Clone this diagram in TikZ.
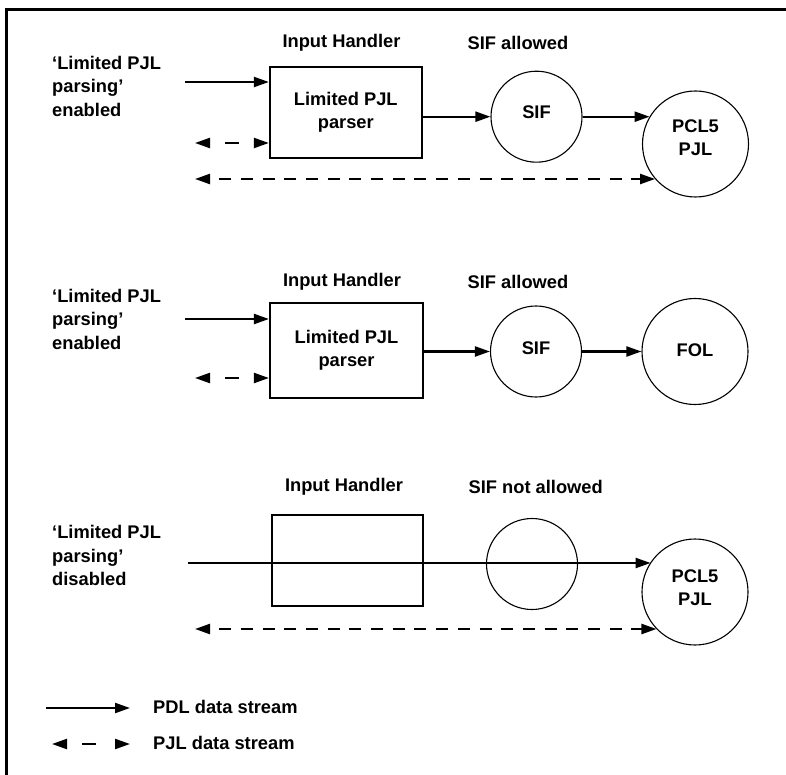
\documentclass[tikz,border=0pt]{standalone}
\usepackage{fontspec}
\setmainfont{Liberation Sans}
\usetikzlibrary{arrows.meta}
\begin{document}
\begin{tikzpicture}[x=1pt,y=-1pt,
  every node/.style={font=\fontsize{18.3}{23.5}\selectfont\bfseries, inner sep=0pt},
  pdl/.style={line width=2.2pt,-{Triangle[length=15pt,width=10pt]}},
  pjl/.style={line width=2.2pt,{Triangle[length=15pt,width=10pt]}-{Triangle[length=15pt,width=10pt]},
    dash pattern=on 12pt off 9.7pt, dash phase=12pt},
  pjlshort/.style={line width=2.2pt,{Triangle[length=15pt,width=10pt]}-{Triangle[length=15pt,width=10pt]},
    dash pattern=on 14pt off 40pt, dash phase=38pt},
  handler/.style={draw, line width=2.2pt, rectangle, align=center},
  proc/.style={draw, line width=1.1pt, circle, minimum size=91pt},
  big/.style={draw, line width=1.1pt, circle, minimum size=106pt},
  lbl/.style={align=left, anchor=west},
  ctr/.style={align=center}]
\useasboundingbox (0,0) rectangle (786,775);
% frame
\draw[line width=3pt] (6.7,775) -- (6.7,10) -- (786,10);

% ---------- section 1 ----------
\node[lbl] (l1) at (52,86) {‘Limited PJL\\parsing’\\enabled};
\node (h1) at (341.5,43) {Input Handler};
\node (s1) at (518,43) {SIF allowed};
\node[handler, minimum width=151.7pt, minimum height=91pt] (ih1) at (345.8,112.5) {Limited PJL\\parser};
\node[proc] (sif1) at (536.5,116.7) {};
\node (sif1t) at (536.5,112) {SIF};
\node[big] (pcl1) at (695.5,144) {};
\node[ctr] (pcl1t) at (695.5,137.5) {PCL5\\PJL};
\coordinate (a1) at (185,82);
\coordinate (b1) at (195,143);
\coordinate (c1) at (195,179);
\draw[pdl] (a1) -- (a1 -| ih1.west);
\draw[pjlshort] (b1) -- (b1 -| ih1.west);
\draw[pdl] (ih1.east |- sif1) -- (sif1.west);
\draw[pdl] (sif1.east) -- (sif1.east -| pcl1.149.4);
\draw[pjl] (c1) -- (c1 -| pcl1.221.3);

% ---------- section 2 ----------
\node[lbl] (l2) at (52,319) {‘Limited PJL\\parsing’\\enabled};
\node (h2) at (342,282) {Input Handler};
\node (s2) at (518,282) {SIF allowed};
\node[handler, minimum width=153pt, minimum height=95pt] (ih2) at (346.5,350.5) {Limited PJL\\parser};
\node[proc] (sif2) at (536,351.5) {};
\node (sif2t) at (536,348) {SIF};
\node[big] (fol) at (695,351.5) {};
\node (folt) at (695,350) {FOL};
\coordinate (a2) at (185,319);
\coordinate (b2) at (195,378);
\draw[pdl] (a2) -- (a2 -| ih2.west);
\draw[pjlshort] (b2) -- (b2 -| ih2.west);
\draw[pdl] (ih2.east |- sif2) -- (sif2.west);
\draw[pdl] (sif2.east) -- (fol.west);

% ---------- section 3 ----------
\node[lbl] (l3) at (52,555.5) {‘Limited PJL\\parsing’\\disabled};
\node (h3) at (344,487) {Input Handler};
\node (s3) at (535.7,487) {SIF not allowed};
\node[handler, minimum width=151.3pt, minimum height=91pt] (ih3) at (347.3,560.5) {};
\node[proc] (c3) at (532,564) {};
\node[big] (pcl3) at (695,592) {};
\node[ctr] (pcl3t) at (695,587.5) {PCL5\\PJL};
\coordinate (a3) at (188,563);
\coordinate (b3) at (195,629);
\draw[pdl] (a3) -- (a3 -| pcl3.146.8);
\draw[pjl] (b3) -- (b3 -| pcl3.224.3);

% ---------- legend ----------
\coordinate (la) at (46,708);
\coordinate (lb) at (130,708);
\coordinate (lc) at (52,744);
\coordinate (ld) at (130,744);
\draw[pdl] (la) -- (lb);
\node[anchor=west] (lt1) at (153,707) {PDL data stream};
\draw[pjlshort] (lc) -- (ld);
\node[anchor=west] (lt2) at (153,743) {PJL data stream};
\end{tikzpicture}
\end{document}
